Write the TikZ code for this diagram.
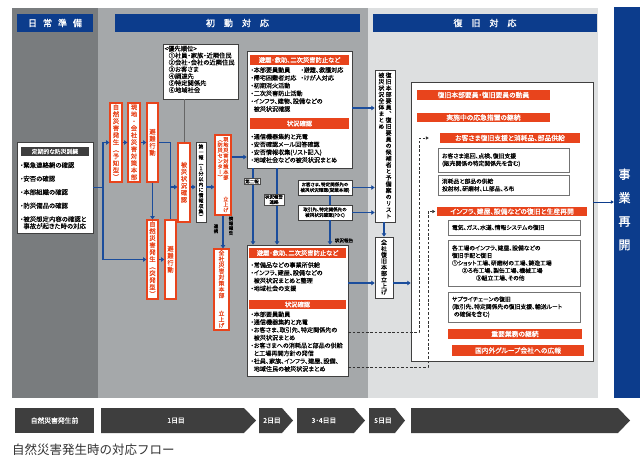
\documentclass[tikz,border=0pt]{standalone}
\usepackage{fontspec}
\usetikzlibrary{arrows.meta,calc}
\newfontfamily\jp{Noto Sans CJK JP}
\newfontfamily\jpp{Noto Sans CJK JP}[RawFeature=+palt,FakeBold=0.3]
\newfontfamily\jppb{Noto Sans CJK JP}[RawFeature=+palt,FakeBold=0.9]
\newfontfamily\jpv{Noto Sans CJK JP}[RawFeature=+vert,FakeBold=0.4]
\newfontfamily\jpb{Noto Sans CJK JP}[FakeBold=1.2]
\definecolor{dkg}{HTML}{797C7E}
\definecolor{mdg}{HTML}{A5A8AA}
\definecolor{ltg}{HTML}{DDDFE0}
\definecolor{navy}{HTML}{0C3C8C}
\definecolor{cblue}{HTML}{1B4D9C}
\definecolor{ored}{HTML}{E8441C}
\definecolor{tlg}{HTML}{3E3E3E}
\newdimen\vtpitch
\def\vtend{VTEND}
\def\vtloop#1{\ifx#1\vtend\else\hbox to\vtpitch{\hss\vrule height .8\vtpitch depth .2\vtpitch width 0pt\relax #1\hss}\expandafter\vtloop\fi}
\newcommand\vtxt[2]{\vtop{\vtpitch=#1\relax\offinterlineskip\vtloop#2\vtend}}
\tikzset{
  vb/.style={draw=ored, line width=1.1pt, fill=white, inner sep=0pt, text=ored, font=\jpv\fontsize{6.3}{7}\selectfont},
  kb/.style={draw=black!75, line width=0.6pt, fill=white, inner sep=0pt},
  wb/.style={draw=black!55, line width=0.7pt, fill=white, inner sep=0pt},
  rb/.style={fill=ored, text=white, inner sep=0pt, font=\jppb\fontsize{6.3}{7}\selectfont},
  hdr/.style={fill=navy, text=white, inner sep=0pt, minimum height=18pt, font=\jpb\fontsize{9}{10}\selectfont},
  conn/.style={draw=cblue, line width=1.5pt},
  arr/.style={conn, -{Triangle[length=3.4pt,width=4.4pt]}},
  dsh/.style={draw=black!80, line width=0.8pt, dash pattern=on 2.6pt off 1.8pt},
  dtip/.style={-{Triangle[length=3pt,width=3.2pt]}},
  items/.style={inner sep=0pt, anchor=north west, align=left, font=\jpp\fontsize{6.1}{7.8}\selectfont},
  citems/.style={align=left, font=\jpp\fontsize{5.8}{7.5}\selectfont},
  lab/.style={draw=black!70, line width=0.4pt, fill=white, inner sep=1pt, align=center, font=\jpp\fontsize{4.5}{5.2}\selectfont},
  vlab/.style={inner sep=0pt, text=black, font=\jpv\fontsize{4.4}{5}\selectfont},
  tl/.style={fill=tlg},
  tlt/.style={text=white, inner sep=0pt, font=\jpp\fontsize{6.8}{7}\selectfont},
}
\begin{document}
\begin{tikzpicture}[x=1pt,y=-1pt,font=\jpp]
\useasboundingbox (0,0) rectangle (640,461);
\fill[white] (0,0) rectangle (640,461);
% panels
\fill[dkg] (12,8) rectangle (98,398);
\fill[mdg] (98,8) rectangle (368,398);
\fill[ltg] (368,8) rectangle (598,398);
% headers
\node[hdr, minimum width=76pt] (h1) at (55,23) {日\hspace{6pt}常\hspace{6pt}準\hspace{6pt}備};
\node[hdr, minimum width=245pt] (h2) at (237.5,23) {初\hspace{9pt}動\hspace{9pt}対\hspace{9pt}応};
\node[hdr, minimum width=224pt] (h3) at (485,23) {復\hspace{9pt}旧\hspace{9pt}対\hspace{9pt}応};
% business restart column
\node[fill=navy, minimum width=26pt, minimum height=391pt, inner sep=0pt] (col) at (627,202.5) {};
\node[text=white, inner sep=0pt, font=\jpb\fontsize{12}{12}\selectfont] (colt) at (624.5,207) {\vtxt{23.5pt}{事業再開}};

% training box
\node[kb, minimum width=76pt, minimum height=91pt] (tr) at (55,187.5) {};
\node[fill=tlg, text=white, minimum width=68pt, minimum height=9pt, inner sep=0pt, font=\jpp\fontsize{5.8}{6}\selectfont] (trh) at (55,151.5) {定期的な防災訓練};
\node[items, font=\jpp\fontsize{6.4}{7}\selectfont] (tri) at (20,162) {・緊急連絡網の確認\\[6.5pt]・安否の確認\\[6.5pt]・本部組織の確認\\[6.5pt]・防災備品の確認\\[6.5pt]・被災想定内容の確認と\\\phantom{・}事故が起きた時の対応};

% priority box
\node[kb, minimum width=75pt, minimum height=55pt] (pr) at (200.5,71.5) {};
\node[items, font=\jpp\fontsize{6.3}{6.9}\selectfont] (prt) at (164.5,45.5) {<優先順位>\\\hspace*{4pt}①社員・家族・近隣住民\\\hspace*{4pt}②会社・会社の近隣住民\\\hspace*{4pt}③お客さま\\\hspace*{4pt}④調達先\\\hspace*{4pt}⑤特定関係先\\\hspace*{4pt}⑥地域社会};

% vertical orange boxes
\node[vb, minimum width=12pt, minimum height=79pt] (v1) at (116,142.5) {\vtxt{7pt}{自然災害発生（予知型）}};
\node[vb, minimum width=12pt, minimum height=79pt] (v2) at (134,142.5) {\vtxt{7pt}{現地・会社災害対策本部}};
\node[vb, minimum width=11pt, minimum height=79pt] (v3) at (152.5,142.5) {\vtxt{7pt}{避難行動}};
\node[vb, minimum width=11pt, minimum height=79pt] (v8) at (152.5,259.5) {\vtxt{7pt}{自然災害発生（突発型）}};
\node[vb, minimum width=11pt, minimum height=79pt] (v9) at (170.5,259.5) {\vtxt{7pt}{避難行動}};
\node[vb, minimum width=12pt, minimum height=79pt] (v4) at (184,182.5) {\vtxt{7pt}{被災状況確認}};
\node[kb, minimum width=10pt, minimum height=80pt, font=\jpv\fontsize{4.9}{5}\selectfont] (v5) at (201,182) {\vtxt{5.4pt}{第一報（１分以内に情報収集）}};
\node[vb, minimum width=16pt, minimum height=80pt, font=\jpv\fontsize{5.2}{5}\selectfont] (v6) at (223,175) {\hbox{\vtxt{5.4pt}{（防災センター）}\kern0.3pt\vtxt{5.4pt}{現地災害対策本部　　　立上げ}}};
\node[vb, minimum width=15pt, minimum height=81pt, font=\jpv\fontsize{5.8}{6}\selectfont] (v7) at (221.5,289.5) {\vtxt{6pt}{全社災害対策本部　　立上げ}};

% big box A
\node[kb, minimum width=105pt, minimum height=117pt] (A) at (299.5,109.5) {};
\node[rb, minimum width=99pt, minimum height=10pt] (Ah1) at (299.5,60) {避難・救助、二次災害防止など};
\node[items] (Ai1) at (250.5,67) {\makebox[50pt][l]{・本部要員動員}・避難、救護対応\\\makebox[50pt][l]{・帰宅困難者対応}・けが人対応\\・初期消火活動\\・二次災害防止活動\\・インフラ、建物、設備などの\\\phantom{・}被災状況確認};
\node[rb, minimum width=99pt, minimum height=11pt] (Ah2) at (299.5,123.5) {状況確認};
\node[items] (Ai2) at (250.5,133.6) {・通信機器集約と充電\\・安否確認メール回答確認\\・安否情報収集(リスト記入)\\・地域社会などの被災状況まとめ};

% big box B
\node[kb, minimum width=101pt, minimum height=131pt] (B) at (297.5,310.5) {};
\node[rb, minimum width=97pt, minimum height=10pt] (Bh1) at (297.5,253) {避難・救助、二次災害防止など};
\node[items] (Bi1) at (250.5,262) {・常備品などの事業所供給\\・インフラ、建屋、設備などの\\\phantom{・}被災状況まとめと整理\\・地域社会の支援};
\node[rb, minimum width=97pt, minimum height=9pt] (Bh2) at (297.5,304.5) {状況確認};
\node[items] (Bi2) at (250.5,311.3) {・本部要員動員\\・通信機器集約と充電\\・お客さま、取引先、特定関係先の\\\phantom{・}被災状況まとめ\\・お客さまへの消耗品と部品の供給\\\phantom{・}と工場再開方針の発信\\・社員、家族、インフラ、建屋、設備、\\\phantom{・}地域住民の被災状況まとめ};

% small boxes
\node[kb, minimum width=54pt, minimum height=15pt, align=center, font=\jpp\fontsize{4.6}{5.6}\selectfont] (s1) at (325,187.5) {お客さま、特定関係先の\\被災状況確認(営業本部)};
\node[kb, minimum width=54pt, minimum height=15pt, align=center, font=\jpp\fontsize{4.6}{5.6}\selectfont] (s2) at (325,212.5) {取引先、特定関係先の\\被災状況確認(PDC)};

% recovery vertical boxes
\node[kb, minimum width=20pt, minimum height=152pt, font=\jpv\fontsize{5.9}{6}\selectfont] (R1) at (385,146) {\hbox{\vtxt{6.4pt}{被災状況全体まとめ}\kern0.8pt\vtxt{6.4pt}{復旧本部要員、復旧要員の候補者と予備案のリスト}}};
\node[kb, minimum width=18pt, minimum height=61pt, font=\jpv\fontsize{6}{6}\selectfont] (R2) at (384,267.5) {\vtxt{6.1pt}{全社復旧本部立上げ}};

% big box C
\node[kb, minimum width=182pt, minimum height=279pt] (C) at (502,221.5) {};
\node[rb, minimum width=133pt, minimum height=10pt, font=\jppb\fontsize{6.8}{7}\selectfont] (c1) at (483.5,95) {復旧本部要員・復旧要員の動員};
\node[rb, minimum width=133pt, minimum height=9.5pt, font=\jppb\fontsize{6.8}{7}\selectfont] (c2) at (483.5,117.5) {実施中の応急措置の継続};
\node[rb, minimum width=140pt, minimum height=10pt, font=\jppb\fontsize{6.8}{7}\selectfont] (c3) at (510,138) {お客さま復旧支援と消耗品、部品供給};
\node[wb, citems, text width=123pt, inner xsep=4pt, minimum height=24pt] (c4) at (503.5,160) {お客さま巡回、点検、復旧支援\\(販売関係の特定関係先を含む)};
\node[wb, citems, text width=123pt, inner xsep=4pt, minimum height=20pt] (c5) at (503.5,185) {消耗品と部品の供給\\投射材、研磨材、LL部品、ろ布};
\node[rb, minimum width=150pt, minimum height=9.5pt, font=\jppb\fontsize{6.8}{7}\selectfont] (c6) at (512,211.5) {インフラ、建屋、設備などの復旧と生産再開};
\node[wb, citems, text width=124pt, inner xsep=4pt, minimum height=15pt] (c7) at (514,227.5) {電気、ガス、水道、情報システムの復旧};
\node[wb, citems, text width=124pt, inner xsep=4pt, minimum height=46pt] (c8) at (514,263) {各工場のインフラ、建屋、設備などの\\復旧手配と復旧\\①ショット工場、研磨材の工場、鋳造工場\\\hspace*{10pt}②ろ布工場、製缶工場、機械工場\\\hspace*{24pt}③組立工場、その他};
\node[wb, citems, text width=124pt, inner xsep=4pt, minimum height=30pt] (c9) at (514,307) {サプライチェーンの復旧\\(取引先、特定関係先の復旧支援、輸送ルート\\\phantom{(}の確保を含む)};
\node[rb, minimum width=134pt, minimum height=10pt, font=\jppb\fontsize{6.8}{7}\selectfont] (c10) at (515,334) {重要業務の継続};
\node[rb, minimum width=132pt, minimum height=11pt, font=\jppb\fontsize{6.8}{7}\selectfont] (c11) at (518,350.5) {国内外グループ会社への広報};

% ---------- connectors ----------
\coordinate (j1) at (103,187.5);
\draw[conn] (tr.east) -- (j1);
\draw[arr] (j1) |- (v1.west);
\draw[arr] (j1) |- (v8.west);
\draw[arr] (v1.east) -- (v2.west);
\draw[arr] (v2.east) -- (v3.west);
\draw[conn] (v3.east) -| (v9.north);
\draw[arr] (v3.south) -- (v3.south |- v8.north);
\draw[arr] (v8.east) -- (v9.west);
\coordinate (r187) at (0,187);
\draw[arr] (v9.north |- r187) -- (v4.west |- r187);
\draw[arr] (v4.east |- r187) -- (v5.west |- r187);
\draw[arr] (v5.east |- r187) -- (v6.west |- r187);
\draw[draw=black!60, line width=1pt] (pr.south -| v4.north) -- (v4.north);
\coordinate (a1) at (0,157);
\draw[arr] (v6.east |- a1) -- (A.west |- a1);
\draw[arr] (v6.south) -- (v6.south |- v7.north);
\node[vlab] (lk) at (216,229) {\vtxt{4.8pt}{連携}};
\node[vlab] (lr) at (231,226) {\vtxt{4.8pt}{情報報告}};
\coordinate (ax1) at (253,0);
\coordinate (ax2) at (277,0);
\draw[arr] (A.south -| ax1) -- (B.north -| ax1);
\draw[arr] (A.south -| ax2) -- (B.north -| ax2);
\node[lab] (l2) at (252,181.5) {第二報};
\node[lab] (l3) at (274,199.5) {状況報告\\連絡};
\coordinate (a2) at (0,108);
\draw[arr] (A.east |- a2) -- (R1.west |- a2);
\draw[arr] (s1.east) -- (s1.east -| R1.west);
\draw[arr] (s2.east) -- (s2.east -| R1.west);
\coordinate (ax3) at (330,0);
\draw[conn] (s1.south -| ax3) -- (s2.north -| ax3);
\draw[arr] (s2.south -| ax3) -- (B.north -| ax3);
\node[inner sep=0pt, font=\jpp\fontsize{4.6}{5}\selectfont] (l4) at (344,240.5) {状況報告};
\draw[arr] (R1.south -| R2.north) -- (R2.north);
\coordinate (a3) at (0,283);
\draw[arr] (B.east |- a3) -- (R2.west |- a3);
\draw[arr] (R2.east |- a3) -- (C.west |- a3);
\coordinate (a4) at (0,202);
\draw[draw=navy, line width=1pt, -{Triangle[length=3pt,width=3.4pt]}] (C.east |- a4) -- (col.west |- a4);
% dashed
\coordinate (d1a) at (0,332);
\coordinate (d1b) at (419,332);
\coordinate (d1c) at (419,138);
\draw[dsh, dtip, shorten >=11pt] (B.east |- d1a) -- (d1b) -- (d1c) -- (c3.west);
\coordinate (d2a) at (0,367);
\coordinate (d2b) at (428,367);
\coordinate (d2c) at (428,211.5);
\draw[dsh, dtip, shorten >=1.5pt] (B.east |- d2a) -- (d2b) -- (d2c) -- (c6.west);

% ---------- timeline ----------
\fill[tl] (15,408) rectangle (94,433);
\fill[tl] (101,408) -- (244,408) -- (256,420.5) -- (244,433) -- (101,433) -- cycle;
\fill[tl] (259,408) -- (282,408) -- (293,420.5) -- (282,433) -- (259,433) -- cycle;
\fill[tl] (297,408) -- (354,408) -- (365,420.5) -- (354,433) -- (297,433) -- cycle;
\fill[tl] (369,408) -- (395,408) -- (405,420.5) -- (395,433) -- (369,433) -- cycle;
\fill[tl] (411,408) -- (618,408) -- (630,420.5) -- (618,433) -- (411,433) -- cycle;
\node[tlt] (t0) at (54.5,420.5) {自然災害発生前};
\node[tlt] (t1) at (176,420.5) {1日目};
\node[tlt] (t2) at (272,420.5) {2日目};
\node[tlt] (t3) at (324,420.5) {3･4日目};
\node[tlt] (t4) at (383,420.5) {5日目};
\node[anchor=west, inner sep=0pt, text=black!80, font=\jp\fontsize{12.5}{13}\selectfont] (cap) at (12,450) {自然災害発生時の対応フロー};
\end{tikzpicture}
\end{document}
